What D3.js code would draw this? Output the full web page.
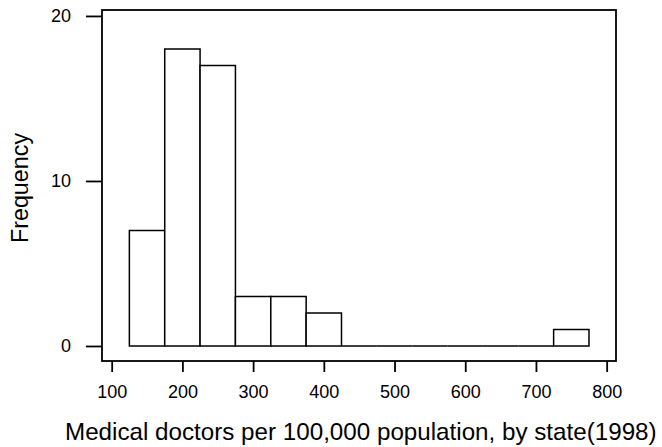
<!DOCTYPE html>
<html>
<head>
<meta charset="utf-8">
<script src="https://cdn.jsdelivr.net/npm/d3@7"></script>
<style>
  html, body { margin: 0; padding: 0; background: #fff; }
  svg { display: block; }
  text { font-family: "Liberation Sans", Arial, Helvetica, sans-serif; fill: #000; }
</style>
</head>
<body>
<svg id="chart" width="662" height="447"></svg>
<script>
// Histogram bins: lower edges, bin width and frequencies
const binLower = [125, 175, 225, 275, 325, 375, 425, 475, 525, 575, 625, 675, 725];
const binWidth = 50;
const frequency = [7, 18, 17, 3, 3, 2, 0, 0, 0, 0, 0, 0, 1];

const xTicks = [100, 200, 300, 400, 500, 600, 700, 800];
const yTicks = [0, 10, 20];

const xTitle = "Medical doctors per 100,000 population, by state(1998)";
const yTitle = "Frequency";

const W = 662, H = 447;
const plot = { left: 102, right: 616, top: 10, bottom: 361 };

const svg = d3.select("#chart");

const x = d3.scaleLinear().domain([86.3, 813.2]).range([plot.left, plot.right]);
const y = d3.scaleLinear().domain([-0.91, 20.36]).range([plot.bottom, plot.top]);

// Bars as closed outlines so empty bins show as a flat line on the baseline
const bins = binLower.map((lo, i) => ({ x0: lo, x1: lo + binWidth, n: frequency[i] }));
svg.append("g")
  .selectAll("path")
  .data(bins)
  .join("path")
  .attr("d", d => {
    const p = d3.path();
    p.moveTo(x(d.x0), y(0));
    p.lineTo(x(d.x0), y(d.n));
    p.lineTo(x(d.x1), y(d.n));
    p.lineTo(x(d.x1), y(0));
    p.closePath();
    return p.toString();
  })
  .attr("fill", "#fff")
  .attr("stroke", "#000")
  .attr("stroke-width", 1.5)
  .attr("stroke-linejoin", "miter");

// Plot region frame
svg.append("rect")
  .attr("x", plot.left)
  .attr("y", plot.top)
  .attr("width", plot.right - plot.left)
  .attr("height", plot.bottom - plot.top)
  .attr("fill", "none")
  .attr("stroke", "#000")
  .attr("stroke-width", 1.8);

// Axes
const xAxis = d3.axisBottom(x).tickValues(xTicks).tickSize(11).tickPadding(13).tickFormat(d3.format("d"));
const gx = svg.append("g").attr("transform", `translate(0,${plot.bottom})`).call(xAxis);
gx.select(".domain").remove();
gx.selectAll(".tick line").attr("stroke", "#000").attr("stroke-width", 1.8);
gx.selectAll(".tick text").attr("font-size", 18).attr("font-family", null);

const yAxis = d3.axisLeft(y).tickValues(yTicks).tickSize(16).tickPadding(15).tickFormat(d3.format("d"));
const gy = svg.append("g").attr("transform", `translate(${plot.left},0)`).call(yAxis);
gy.select(".domain").remove();
gy.selectAll(".tick line").attr("stroke", "#000").attr("stroke-width", 1.8);
gy.selectAll(".tick text").attr("font-size", 18).attr("font-family", null);

// Axis titles
svg.append("text")
  .attr("x", 65)
  .attr("y", 440)
  .attr("font-size", 24.2)
  .text(xTitle);

svg.append("text")
  .attr("transform", "translate(28,188) rotate(-90)")
  .attr("text-anchor", "middle")
  .attr("font-size", 23.3)
  .text(yTitle);
</script>
</body>
</html>
